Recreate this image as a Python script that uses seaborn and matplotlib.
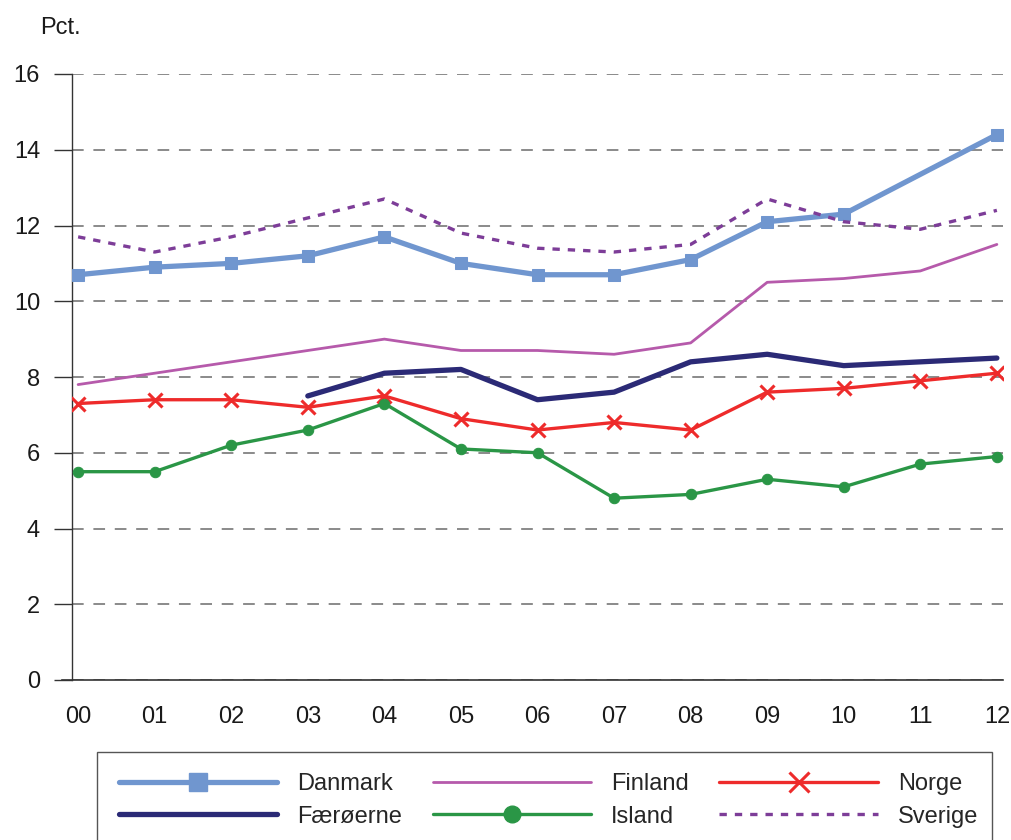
import numpy as np
import pandas as pd
import matplotlib
matplotlib.use("Agg")
import matplotlib.pyplot as plt
from matplotlib.lines import Line2D
from matplotlib.patches import Rectangle
import seaborn as sns

# Year labels (2000-2012) and shares in per cent
years = ["00", "01", "02", "03", "04", "05", "06", "07", "08", "09", "10", "11", "12"]
danmark = [10.7, 10.9, 11.0, 11.2, 11.7, 11.0, 10.7, 10.7, 11.1, 12.1, 12.3, np.nan, 14.4]
finland = [7.8, 8.1, 8.4, 8.7, 9.0, 8.7, 8.7, 8.6, 8.9, 10.5, 10.6, 10.8, 11.5]
norge = [7.3, 7.4, 7.4, 7.2, 7.5, 6.9, 6.6, 6.8, 6.6, 7.6, 7.7, 7.9, 8.1]
faeroeerne = [np.nan, np.nan, np.nan, 7.5, 8.1, 8.2, 7.4, 7.6, 8.4, 8.6, 8.3, 8.4, 8.5]
island = [5.5, 5.5, 6.2, 6.6, 7.3, 6.1, 6.0, 4.8, 4.9, 5.3, 5.1, 5.7, 5.9]
sverige = [11.7, 11.3, 11.7, 12.2, 12.7, 11.8, 11.4, 11.3, 11.5, 12.7, 12.1, 11.9, 12.4]
y_ticks = [0, 2, 4, 6, 8, 10, 12, 14, 16]

sns.set_style("white")
plt.rcParams["font.family"] = ["Liberation Sans", "DejaVu Sans"]

fig = plt.figure(figsize=(10.12, 8.4), dpi=100)
ax = fig.add_axes([72 / 1012, 1 - 680 / 840, (1003 - 72) / 1012, (680 - 74) / 840])

series = [
    ("Danmark", danmark, dict(color="#7096cf", lw=3.8, marker="s", ms=8.5, ls="-")),
    ("Finland", finland, dict(color="#b65aab", lw=2.0, marker=None, ms=0, ls="-")),
    ("Norge", norge, dict(color="#ee2b2b", lw=2.4, marker="x", ms=10, ls="-")),
    ("Færøerne", faeroeerne, dict(color="#2b2a76", lw=3.8, marker=None, ms=0, ls="-")),
    ("Island", island, dict(color="#2a9646", lw=2.4, marker="o", ms=7.5, ls="-")),
    ("Sverige", sverige, dict(color="#7d3d98", lw=2.4, marker=None, ms=0, ls=(0, (2.2, 2.4)))),
]

x_pos = np.arange(len(years))
for name, vals, st in series:
    df = pd.DataFrame({"x": x_pos, "y": vals}).dropna()
    kw = dict(color=st["color"], linewidth=st["lw"], linestyle=st["ls"])
    if st["marker"]:
        kw.update(marker=st["marker"], markersize=st["ms"], markeredgecolor=st["color"],
                  markerfacecolor=st["color"])
        if st["marker"] == "x":
            kw.update(markeredgewidth=2.2)
    sns.lineplot(data=df, x="x", y="y", ax=ax, legend=False, zorder=3, **kw)

ax.set_xlim(-0.08, 12.08)
ax.set_ylim(0, 16)
ax.set_xticks(x_pos)
ax.set_xticklabels(years)
ax.set_yticks(y_ticks)
ax.set_xlabel("")
ax.set_ylabel("")

for y in y_ticks:
    ax.axhline(y, color="#8a8a8a", lw=1.4, ls=(0, (6, 5)), zorder=1)

for s in ["top", "right"]:
    ax.spines[s].set_visible(False)
ax.spines["left"].set_color("#333333")
ax.spines["bottom"].set_color("#333333")
ax.spines["left"].set_linewidth(1.0)
ax.spines["bottom"].set_linewidth(1.2)
ax.spines["bottom"].set_bounds(-0.21, 12.08)
ax.tick_params(axis="y", direction="out", length=13, width=1, color="#333333",
               labelsize=17, pad=10, left=True)
ax.tick_params(axis="x", length=0, labelsize=17, pad=19, bottom=False)
for lab in ax.get_xticklabels() + ax.get_yticklabels():
    lab.set_color("#1a1a1a")

fig.text(40 / 1012, 1 - 28 / 840, "Pct.", fontsize=17, va="center", ha="left", color="#1a1a1a")

# Legend box and entries
fig.patches.append(Rectangle((97 / 1012, -0.05), (992 - 97) / 1012, (1 - 752 / 840) + 0.05,
                             transform=fig.transFigure, fill=False, edgecolor="#555555",
                             lw=1.0, zorder=0))

handles = {}
for name, vals, st in series:
    kw = dict(color=st["color"], lw=st["lw"], ls=st["ls"])
    if st["marker"] == "s":
        kw.update(marker="s", ms=13)
    elif st["marker"] == "o":
        kw.update(marker="o", ms=12)
    elif st["marker"] == "x":
        kw.update(marker="x", ms=15, mew=2.2)
    handles[name] = Line2D([], [], **kw)

order = ["Danmark", "Færøerne", "Finland", "Island", "Norge", "Sverige"]
fig.legend([handles[n] for n in order], order, loc="upper left",
           bbox_to_anchor=(100 / 1012, 1 - 754 / 840), ncol=3, frameon=False,
           fontsize=17, handlelength=6.7, handletextpad=0.85, columnspacing=1.3,
           labelspacing=0.45, borderpad=0.3)

fig.savefig("out.png", dpi=100)
